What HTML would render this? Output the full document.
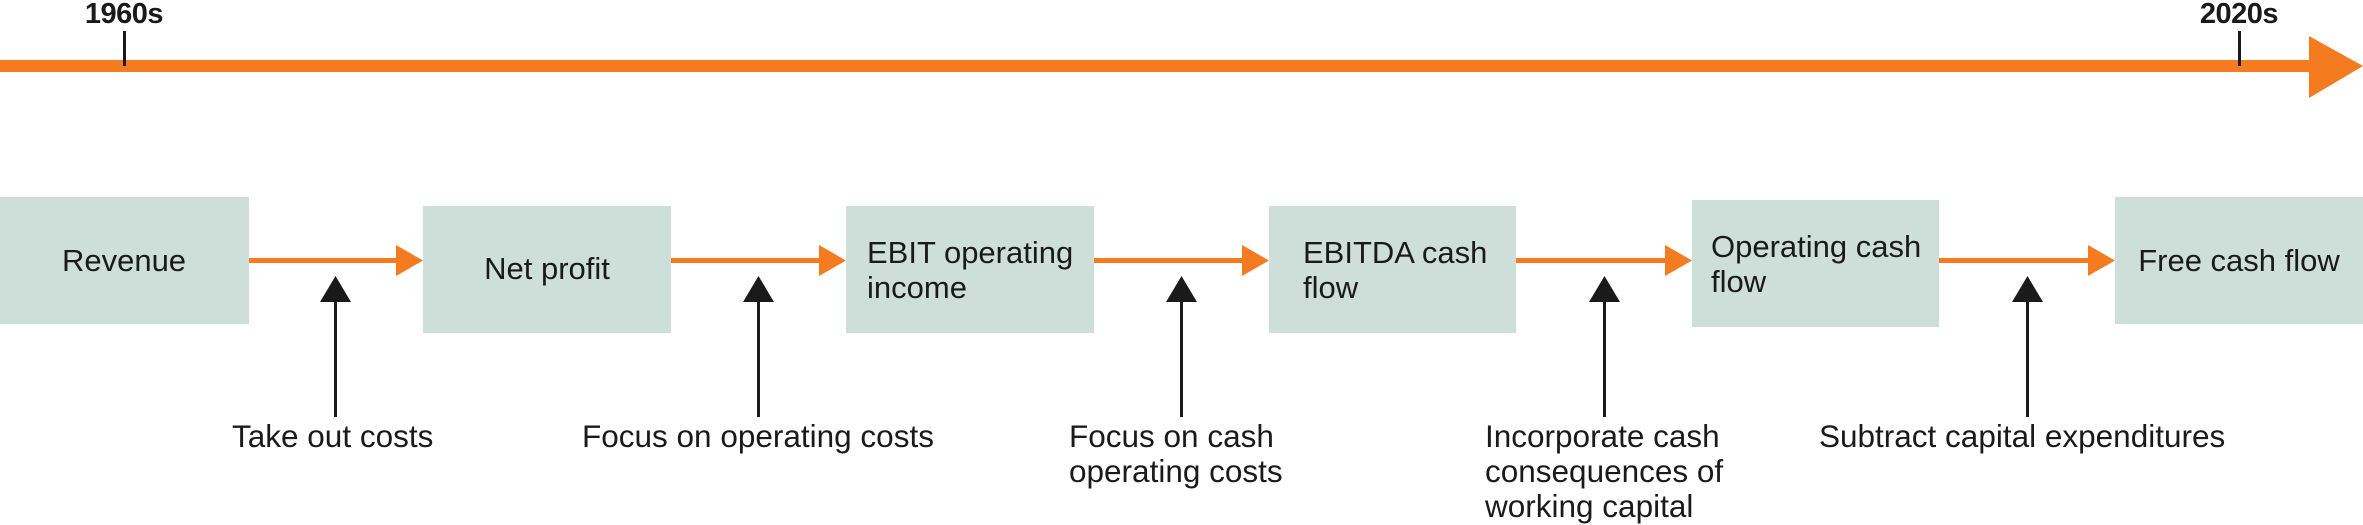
<!DOCTYPE html>
<html><head><meta charset="utf-8"><style>
html,body{margin:0;padding:0;background:#fff;}
svg{display:block;}
text{font-family:"Liberation Sans",Arial,sans-serif;fill:#1a1a1a;}
</style></head><body>
<svg width="2363" height="525" viewBox="0 0 2363 525" xmlns="http://www.w3.org/2000/svg">
<rect x="0" y="60" width="2312" height="12" fill="#f47b20"/>
<polygon points="2309,36 2363,66 2309,98" fill="#f47b20"/>
<rect x="123" y="31" width="3" height="35" fill="#1a1a1a"/>
<rect x="2238" y="31" width="3" height="35" fill="#1a1a1a"/>
<text x="124" y="23" font-size="29" font-weight="bold" text-anchor="middle" letter-spacing="-0.5">1960s</text>
<text x="2239" y="23" font-size="29" font-weight="bold" text-anchor="middle" letter-spacing="-0.5">2020s</text>

<g fill="#cddfd8">
<rect x="0" y="197" width="249" height="127"/>
<rect x="423" y="206" width="248" height="127"/>
<rect x="846" y="206" width="248" height="127"/>
<rect x="1269" y="206" width="247" height="127"/>
<rect x="1692" y="200" width="247" height="127"/>
<rect x="2115" y="197" width="248" height="127"/>
</g>

<g fill="#f47b20">
<rect x="249" y="258" width="150" height="5"/><polygon points="396,245 423,260.5 396,276"/>
<rect x="671" y="258" width="150" height="5"/><polygon points="819,245 846,260.5 819,276"/>
<rect x="1094" y="258" width="150" height="5"/><polygon points="1242,245 1269,260.5 1242,276"/>
<rect x="1516" y="258" width="150" height="5"/><polygon points="1665,245 1692,260.5 1665,276"/>
<rect x="1939" y="258" width="150" height="5"/><polygon points="2088,245 2115,260.5 2088,276"/>
</g>

<g fill="#1a1a1a">
<rect x="334" y="298" width="3" height="119"/><polygon points="335.5,276 320,302 351,302"/>
<rect x="757" y="298" width="3" height="119"/><polygon points="758.5,276 743,302 774,302"/>
<rect x="1180" y="298" width="3" height="119"/><polygon points="1181.5,276 1166,302 1197,302"/>
<rect x="1603" y="298" width="3" height="119"/><polygon points="1604.5,276 1589,302 1620,302"/>
<rect x="2026" y="298" width="3" height="119"/><polygon points="2027.5,276 2012,302 2043,302"/>
</g>

<g font-size="31">
<text x="124" y="271" text-anchor="middle">Revenue</text>
<text x="547" y="279" text-anchor="middle">Net profit</text>
<text x="867" y="263">EBIT operating</text>
<text x="867" y="298">income</text>
<text x="1303" y="263">EBITDA cash</text>
<text x="1303" y="298">flow</text>
<text x="1711" y="257">Operating cash</text>
<text x="1711" y="292">flow</text>
<text x="2239" y="271" text-anchor="middle">Free cash flow</text>
</g>

<g font-size="31.5">
<text x="232" y="447">Take out costs</text>
<text x="582" y="447">Focus on operating costs</text>
<text x="1069" y="447">Focus on cash</text>
<text x="1069" y="482">operating costs</text>
<text x="1485" y="447">Incorporate cash</text>
<text x="1485" y="482">consequences of</text>
<text x="1485" y="517">working capital</text>
<text x="1819" y="447">Subtract capital expenditures</text>
</g>
</svg>
</body></html>
